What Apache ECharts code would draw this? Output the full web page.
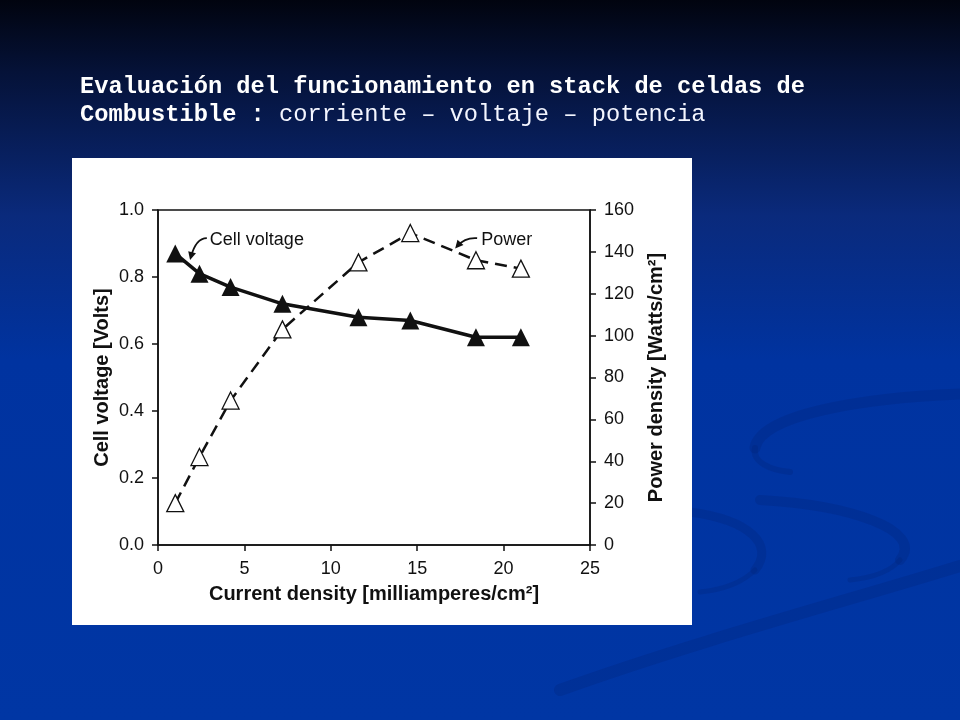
<!DOCTYPE html>
<html>
<head>
<meta charset="UTF-8">
<title>Celdas de combustible</title>
<script src="https://cdn.jsdelivr.net/npm/echarts@6/dist/echarts.min.js"></script>
<style>
html, body { margin: 0; padding: 0; }
#main { width: 960px; height: 720px; }
</style>
</head>
<body>
<div id="main"></div>
<script type="text/javascript">
// datos
var currentDensity = [1.0, 2.4, 4.2, 7.2, 11.6, 14.6, 18.4, 21.0];   // mA/cm2
var cellVoltage    = [0.87, 0.81, 0.77, 0.72, 0.68, 0.67, 0.62, 0.62]; // V
var powerDensity   = [20, 42, 69, 103, 135, 149, 136, 132];           // W/cm2
var xTicks = [0, 5, 10, 15, 20, 25];
var voltTicks = [0.0, 0.2, 0.4, 0.6, 0.8, 1.0];
var powerTicks = [0, 20, 40, 60, 80, 100, 120, 140, 160];

var FONT = 'Arial, "Liberation Sans", Helvetica, sans-serif';
var MONO = '"Courier New", "Liberation Mono", monospace';

function pairs(xs, ys) {
	return xs.map(function (x, i) { return [x, ys[i]]; });
}

var chart = echarts.init(document.getElementById('main'));

var option = {
	backgroundColor: new echarts.graphic.LinearGradient(0, 0, 0, 1, [
		{offset: 0, color: '#01040f'},
		{offset: 0.1, color: '#051238'},
		{offset: 0.3, color: '#0a2a7c'},
		{offset: 0.5, color: '#0033a0'},
		{offset: 1, color: '#0036a4'}
	]),
	animation: false,
	title: {
		left: 75,
		top: 68,
		text: '{b|Evaluación del funcionamiento en stack de celdas de}\n{b|Combustible :}{n| corriente – voltaje – potencia}',
		textStyle: {
			rich: {
				b: {fontFamily: MONO, fontWeight: 'bold', fontSize: 23.7, lineHeight: 28, color: '#ffffff'},
				n: {fontFamily: MONO, fontWeight: 'normal', fontSize: 23.7, lineHeight: 28, color: '#f4f6ff'}
			}
		}
	},
	grid: {
		left: 158, right: 370, top: 210, bottom: 175,
		show: true, borderColor: '#111', borderWidth: 1.5, backgroundColor: 'transparent'
	},
	xAxis: {
		type: 'value',
		min: xTicks[0], max: xTicks[xTicks.length - 1], interval: 5,
		name: 'Current density [milliamperes/cm²]',
		nameLocation: 'middle', nameGap: 39,
		nameTextStyle: {fontFamily: FONT, fontWeight: 'bold', fontSize: 20, color: '#111'},
		axisLine: {lineStyle: {color: '#111', width: 1.5}},
		axisTick: {length: 6, lineStyle: {color: '#111', width: 1.5}},
		axisLabel: {fontFamily: FONT, fontSize: 18, color: '#111', margin: 15},
		splitLine: {show: false}
	},
	yAxis: [{
		type: 'value', position: 'left',
		min: voltTicks[0], max: voltTicks[voltTicks.length - 1], interval: 0.2,
		name: 'Cell voltage [Volts]',
		nameLocation: 'middle', nameGap: 46,
		nameTextStyle: {fontFamily: FONT, fontWeight: 'bold', fontSize: 20, color: '#111'},
		axisLine: {show: true, lineStyle: {color: '#111', width: 1.5}},
		axisTick: {show: true, length: 6, lineStyle: {color: '#111', width: 1.5}},
		axisLabel: {fontFamily: FONT, fontSize: 18, color: '#111', margin: 14,
			formatter: function (v) { return v.toFixed(1); }},
		splitLine: {show: false}
	}, {
		type: 'value', position: 'right',
		min: powerTicks[0], max: powerTicks[powerTicks.length - 1], interval: 20,
		name: 'Power density [Watts/cm²]',
		nameLocation: 'middle', nameGap: 56,
		nameTextStyle: {fontFamily: FONT, fontWeight: 'bold', fontSize: 20, color: '#111'},
		axisLine: {show: true, lineStyle: {color: '#111', width: 1.5}},
		axisTick: {show: true, length: 6, lineStyle: {color: '#111', width: 1.5}},
		axisLabel: {fontFamily: FONT, fontSize: 18, color: '#111', margin: 14},
		splitLine: {show: false}
	}],
	graphic: [{
		type: 'rect', z: -10, silent: true,
		shape: {x: 72, y: 158, width: 620, height: 467},
		style: {fill: '#ffffff'}
	}],
	series: [{
		name: 'Power',
		type: 'line',
		yAxisIndex: 1,
		data: pairs(currentDensity, powerDensity),
		symbol: 'triangle', symbolSize: 17,
		itemStyle: {color: '#ffffff', borderColor: '#111', borderWidth: 1.3},
		lineStyle: {color: '#111', width: 2.5, type: [12, 7]},
		z: 3
	}, {
		name: 'Cell voltage',
		type: 'line',
		yAxisIndex: 0,
		data: pairs(currentDensity, cellVoltage),
		symbol: 'triangle', symbolSize: 18,
		itemStyle: {color: '#111', borderColor: '#111', borderWidth: 0},
		lineStyle: {color: '#111', width: 3.5},
		z: 4
	}]
};
chart.setOption(option);

// rotulos con flecha, anclados en coordenadas de datos
var notes = [
	{text: 'Cell voltage', at: [3.0, 0.91], arrow: [[-3, -2], [-14, -2], [-19, 17]]},
	{text: 'Power', at: [18.7, 0.91], arrow: [[-4, -2], [-16, -3], [-24, 6]]}
];
var extra = [];
notes.forEach(function (n) {
	var p = chart.convertToPixel({xAxisIndex: 0, yAxisIndex: 0}, n.at);
	extra.push({
		type: 'text', z: 10, silent: true,
		x: p[0], y: p[1],
		style: {text: n.text, font: '18px ' + FONT, fill: '#111', verticalAlign: 'middle'}
	});
	var a = n.arrow;
	extra.push({
		type: 'bezierCurve', z: 10, silent: true,
		shape: {x1: p[0] + a[0][0], y1: p[1] + a[0][1], cpx1: p[0] + a[1][0], cpy1: p[1] + a[1][1],
			x2: p[0] + a[2][0], y2: p[1] + a[2][1]},
		style: {stroke: '#111', lineWidth: 1.8, fill: null}
	});
	// punta de flecha
	var tx = p[0] + a[2][0], ty = p[1] + a[2][1];
	var dx = a[2][0] - a[1][0], dy = a[2][1] - a[1][1];
	var len = Math.sqrt(dx * dx + dy * dy);
	dx /= len; dy /= len;
	extra.push({
		type: 'polygon', z: 10, silent: true,
		shape: {points: [[tx + dx * 3, ty + dy * 3],
			[tx - dx * 5 - dy * 4, ty - dy * 5 + dx * 4],
			[tx - dx * 5 + dy * 4, ty - dy * 5 - dx * 4]]},
		style: {fill: '#111'}
	});
});
// trazos suaves del fondo de la diapositiva
var swoosh = 'rgba(0, 30, 110, 0.22)';
function sw(x1, y1, cx1, cy1, cx2, cy2, x2, y2, w) {
	return {type: 'bezierCurve', z: -20, silent: true,
		shape: {x1: x1, y1: y1, cpx1: cx1, cpy1: cy1, cpx2: cx2, cpy2: cy2, x2: x2, y2: y2},
		style: {stroke: swoosh, lineWidth: w, fill: null, lineCap: 'round'}};
}
extra.push(
	sw(560, 690, 700, 640, 850, 600, 960, 566, 12),
	sw(960, 394, 860, 398, 760, 415, 755, 448, 11),
	sw(755, 448, 752, 462, 770, 470, 790, 472, 6),
	sw(760, 500, 850, 505, 925, 530, 900, 560, 10),
	sw(900, 560, 890, 572, 870, 578, 850, 580, 5),
	sw(690, 512, 750, 520, 775, 545, 755, 570, 9),
	sw(755, 570, 740, 585, 720, 590, 700, 592, 5)
);
chart.setOption({graphic: option.graphic.concat(extra)});
</script>
</body>
</html>
